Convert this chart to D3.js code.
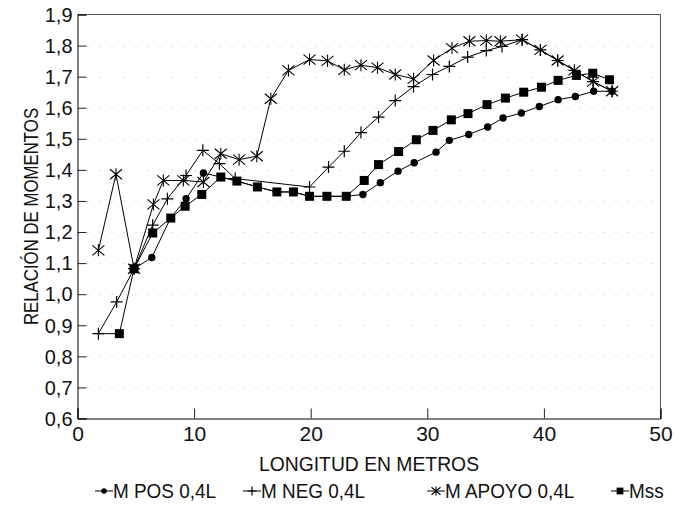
<!DOCTYPE html>
<html><head><meta charset="utf-8">
<script src="https://cdn.jsdelivr.net/npm/d3@7"></script>
<style>
body{margin:0;background:#fff}
svg{display:block}
text{font-family:"Liberation Sans",Arial,Helvetica,sans-serif;fill:#111}
</style>
</head><body>
<svg id="chart" width="680" height="506"></svg>
<script>
// ---- data ----
const xTicks = [0, 10, 20, 30, 40, 50];
const yTicks = [0.6, 0.7, 0.8, 0.9, 1.0, 1.1, 1.2, 1.3, 1.4, 1.5, 1.6, 1.7, 1.8, 1.9];
const gridValues = [0.7, 0.8, 0.9, 1.0, 1.1, 1.2, 1.3, 1.4, 1.5, 1.6, 1.7, 1.8];

const posX = [4.85, 6.37, 7.98, 9.31, 10.80, 12.29, 13.67, 15.43, 17.10, 18.52, 19.90, 21.39, 23.05, 24.48, 25.97, 27.49, 28.88, 30.75, 31.89, 33.55, 35.18, 36.50, 38.07, 39.61, 41.22, 42.70, 44.27, 45.85];
const posY = [1.082, 1.118, 1.245, 1.307, 1.390, 1.377, 1.364, 1.345, 1.329, 1.329, 1.315, 1.315, 1.315, 1.321, 1.359, 1.396, 1.423, 1.457, 1.495, 1.514, 1.538, 1.567, 1.583, 1.604, 1.626, 1.636, 1.653, 1.653];

const negX = [1.79, 3.36, 4.85, 6.45, 7.71, 9.31, 10.75, 12.17, 13.52, 19.90, 21.53, 22.88, 24.31, 25.82, 27.25, 28.82, 30.45, 31.89, 33.46, 35.06, 36.41, 38.13, 39.70, 41.18, 42.62, 44.22, 45.85];
const negY = [0.873, 0.975, 1.082, 1.222, 1.307, 1.382, 1.463, 1.420, 1.372, 1.345, 1.409, 1.460, 1.520, 1.570, 1.623, 1.668, 1.707, 1.733, 1.763, 1.784, 1.797, 1.819, 1.786, 1.752, 1.720, 1.684, 1.653];

const apoyoX = [1.79, 3.30, 4.85, 6.51, 7.36, 9.08, 10.80, 12.29, 13.86, 15.38, 16.58, 18.09, 19.90, 21.44, 22.88, 24.31, 25.73, 27.25, 28.82, 30.54, 32.12, 33.61, 35.06, 36.27, 38.13, 39.70, 41.18, 42.62, 44.22, 45.85];
const apoyoY = [1.141, 1.386, 1.082, 1.289, 1.366, 1.366, 1.361, 1.452, 1.433, 1.444, 1.629, 1.720, 1.755, 1.751, 1.722, 1.737, 1.729, 1.707, 1.693, 1.752, 1.792, 1.814, 1.816, 1.814, 1.819, 1.786, 1.752, 1.720, 1.684, 1.653];

const mssX = [1.79, 3.59, 4.85, 6.45, 8.00, 9.23, 10.66, 12.29, 13.67, 15.43, 17.10, 18.52, 19.90, 21.39, 23.05, 24.59, 25.82, 27.54, 29.06, 30.49, 32.06, 33.49, 35.12, 36.70, 38.27, 39.79, 41.22, 42.79, 44.19, 45.62];
const mssY = [0.873, 0.873, 1.082, 1.197, 1.245, 1.283, 1.321, 1.377, 1.364, 1.345, 1.329, 1.329, 1.315, 1.315, 1.315, 1.366, 1.417, 1.459, 1.497, 1.527, 1.561, 1.581, 1.610, 1.631, 1.650, 1.666, 1.688, 1.704, 1.711, 1.690];
const mssMarkerShown = mssX.map((_, i) => i > 0);

const seriesNames = ["M POS 0,4L", "M NEG 0,4L", "M APOYO 0,4L", "Mss"];
const xTitle = "LONGITUD EN METROS";
const yTitle = "RELACIÓN DE MOMENTOS";

// ---- drawing ----
const svg = d3.select("#chart");
const L = 77.5, R = 660.5, T = 14.5, B = 418.5;
const FS = 21;
const x = d3.scaleLinear().domain([0, 50]).range([L, R]);
const y = d3.scaleLinear().domain([0.6, 1.9]).range([B, T]);
const fmt = v => d3.format(".1f")(v).replace(".", ",");
const squeeze = (sel, k) => sel.each(function () {
  const w = this.getComputedTextLength();
  d3.select(this).attr("textLength", w * k).attr("lengthAdjust", "spacingAndGlyphs");
});

// grid
svg.append("g").selectAll("line").data(gridValues).join("line")
  .attr("x1", L + 10).attr("x2", R - 1)
  .attr("y1", d => Math.round(y(d)) + 0.5).attr("y2", d => Math.round(y(d)) + 0.5)
  .attr("stroke", "#b8b8b8").attr("stroke-width", 1).attr("stroke-dasharray", "1,11");

// frame top/right
svg.append("path").attr("d", `M${L},${T}H${R}V${B}`).attr("fill", "none").attr("stroke", "#555").attr("stroke-width", 1);

// axes
const xAxis = svg.append("g").attr("transform", `translate(0,${B})`)
  .call(d3.axisBottom(x).tickValues(xTicks).tickSize(-10).tickPadding(8).tickFormat(d3.format("d")));
const yAxis = svg.append("g").attr("transform", `translate(${L},0)`)
  .call(d3.axisLeft(y).tickValues(yTicks).tickSize(-9).tickPadding(5).tickFormat(fmt));
[xAxis, yAxis].forEach(g => {
  g.select(".domain").attr("stroke", "#000").attr("stroke-width", 1);
  g.selectAll(".tick line").attr("stroke", "#222");
  g.selectAll(".tick text").attr("font-size", FS).attr("fill", "#111")
    .attr("font-family", '"Liberation Sans",Arial,sans-serif');
});
yAxis.selectAll(".tick text").call(squeeze, 0.95);

// titles
svg.append("text").attr("x", (L + R) / 2).attr("y", 471).attr("text-anchor", "middle")
  .attr("font-size", FS).text(xTitle).call(squeeze, 0.92);
svg.append("text").attr("transform", `translate(38,${(T + B) / 2 + 0}) rotate(-90)`)
  .attr("text-anchor", "middle").attr("font-size", FS).text(yTitle).call(squeeze, 0.8);

// marker shapes
const markers = {
  circle: (g, s) => g.append("circle").attr("r", 3.7 * s).attr("fill", "#000"),
  plus: (g, s) => g.append("path").attr("d", `M${-6*s},0H${6*s}M0,${-6*s}V${6*s}`).attr("stroke", "#000").attr("stroke-width", 1.2).attr("fill", "none"),
  star: (g, s) => g.append("path").attr("d", `M${-6*s},${-5*s}L${6*s},${5*s}M${-6*s},${5*s}L${6*s},${-5*s}M0,${-6*s}V${6*s}`).attr("stroke", "#000").attr("stroke-width", 1.1).attr("fill", "none"),
  square: (g, s) => g.append("rect").attr("x", -4.5 * s).attr("y", -4.5 * s).attr("width", 9 * s).attr("height", 9 * s).attr("fill", "#000")
};

const series = [
  {name: seriesNames[0], xs: posX, ys: posY, m: "circle"},
  {name: seriesNames[1], xs: negX, ys: negY, m: "plus"},
  {name: seriesNames[2], xs: apoyoX, ys: apoyoY, m: "star"},
  {name: seriesNames[3], xs: mssX, ys: mssY, m: "square", show: mssMarkerShown}
];

const line = d3.line().x(d => x(d[0])).y(d => y(d[1]));
series.forEach(s => {
  const pts = s.xs.map((v, i) => [v, s.ys[i]]);
  svg.append("path").datum(pts).attr("d", line).attr("fill", "none").attr("stroke", "#000").attr("stroke-width", 1);
});
series.forEach(s => {
  s.xs.forEach((v, i) => {
    if (s.show && !s.show[i]) return;
    const g = svg.append("g").attr("transform", `translate(${x(v)},${y(s.ys[i])})`);
    markers[s.m](g, 1);
  });
});

// legend
const legendItems = [
  {cx: 104, tx: 113}, {cx: 252, tx: 261}, {cx: 436, tx: 445}, {cx: 620, tx: 629}
];
series.forEach((s, i) => {
  const it = legendItems[i];
  const g = svg.append("g").attr("transform", `translate(${it.cx},491)`);
  g.append("line").attr("x1", -9).attr("x2", 9).attr("stroke", "#000").attr("stroke-width", 1);
  markers[s.m](g, 0.75);
  svg.append("text").attr("x", it.tx).attr("y", 498).attr("font-size", FS).text(s.name).call(squeeze, 0.9);
});
</script>
</body></html>
